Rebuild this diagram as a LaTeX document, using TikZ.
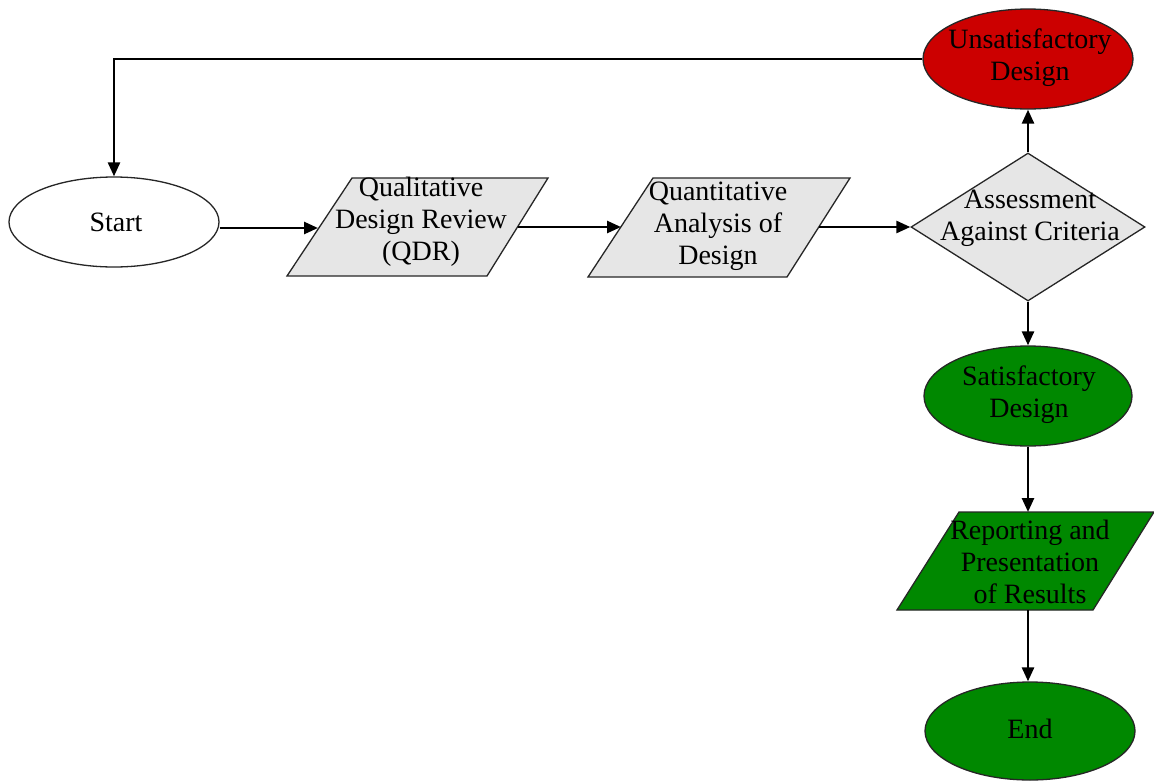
\documentclass[tikz,border=0pt]{standalone}
\usepackage{fontspec}
\setmainfont{Liberation Serif}
\usetikzlibrary{arrows.meta,shapes.geometric}
\definecolor{redfill}{RGB}{204,0,0}
\definecolor{greenfill}{RGB}{0,136,0}
\definecolor{grayfill}{RGB}{230,230,230}
\begin{document}
\begin{tikzpicture}[x=1pt,y=-1pt,
  txt/.style={font=\fontsize{28}{32}\selectfont, align=center, inner sep=0pt},
  shapeline/.style={draw=black!85, line width=1.3pt},
  term/.style={ellipse, shapeline, inner sep=0pt},
  conn/.style={line width=2.6pt, -{Triangle[length=14pt,width=12pt]}}]
\fill[white] (0,0) rectangle (1154,782);
\useasboundingbox (0,0) rectangle (1154,782);

% terminals / outcomes
\node[term, fill=white, minimum width=210pt, minimum height=90pt] (start) at (114,222) {};
\node[txt] (starttxt) at (116,222) {Start};

\node[term, fill=redfill, minimum width=210pt, minimum height=100pt] (unsat) at (1028,59) {};
\node[txt] (unsattxt) at (1030,58) {Unsatisfactory\\Design};

\node[term, fill=greenfill, minimum width=208pt, minimum height=100pt] (sat) at (1028,396) {};
\node[txt] (sattxt) at (1029,395) {Satisfactory\\Design};

\node[term, fill=greenfill, minimum width=210pt, minimum height=98pt] (end) at (1030,731) {};
\node[txt] (endtxt) at (1030,729) {End};

% decision
\node[diamond, shapeline, fill=grayfill, minimum width=234pt, minimum height=148pt, inner sep=0pt] (dia) at (1028,227) {};
\node[txt] (diatxt) at (1030,218) {Assessment\\Against Criteria};

% parallelograms
\draw[shapeline, fill=grayfill] (352,178) -- (548,178) -- (487,276) -- (287,276) -- cycle;
\node[txt] (qdr) at (421,222) {Qualitative\\Design Review\\(QDR)};
\coordinate (qdrin) at (318,228);
\coordinate (qdrout) at (518,227);

\draw[shapeline, fill=grayfill] (653,178) -- (850,178) -- (787,277) -- (588,277) -- cycle;
\node[txt] (quant) at (718,226) {Quantitative\\Analysis of\\Design};
\coordinate (quantin) at (621,227);
\coordinate (quantout) at (819,227);

\draw[shapeline, fill=greenfill] (959,512) -- (1154,512) -- (1093,610) -- (897,610) -- cycle;
\node[txt] (rep) at (1030,562) {Reporting and\\Presentation\\of Results};
\coordinate (reptop) at (1028,512);
\coordinate (repbot) at (1028,610);

% connectors
\draw[conn] (start.east |- qdrin) -- (qdrin);
\draw[conn] (qdrout) -- (quantin);
\draw[conn] (quantout) -- (dia.west);
\draw[conn] (dia.north) -- (unsat.south);
\draw[conn] (dia.south) -- (sat.north);
\draw[conn] (sat.south -| reptop) -- (reptop);
\draw[conn] (repbot) -- (end.north -| repbot);
\draw[conn] (unsat.west) -| (start.north);
\end{tikzpicture}
\end{document}
